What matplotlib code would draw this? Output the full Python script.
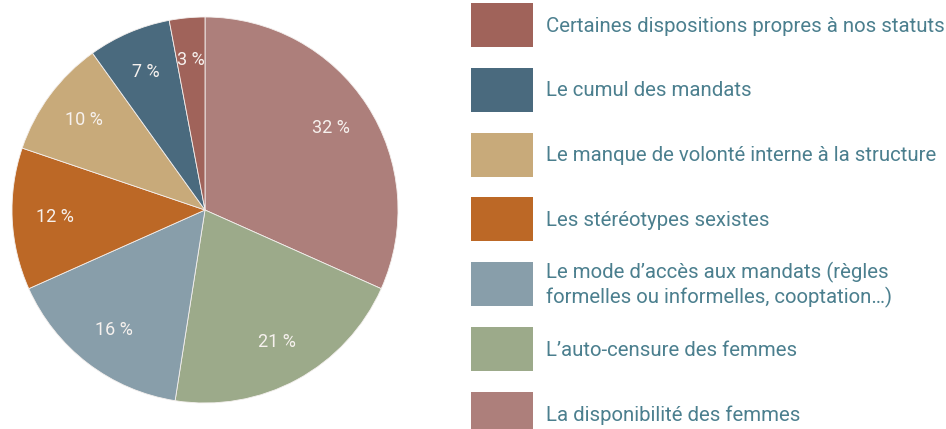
import numpy as np
import matplotlib.pyplot as plt
from matplotlib.patches import Rectangle

# slices clockwise from the top
labels = ["La disponibilité des femmes",
          "L’auto-censure des femmes",
          "Le mode d’accès aux mandats (règles\nformelles ou informelles, cooptation…)",
          "Les stéréotypes sexistes",
          "Le manque de volonté interne à la structure",
          "Le cumul des mandats",
          "Certaines dispositions propres à nos statuts"]
values = [32, 21, 16, 12, 10, 7, 3]
colors = ["#ad7f7b", "#9caa8a", "#889eaa", "#bc6826", "#c8aa7a", "#4a6a7e", "#a0635a"]

plt.rcParams['font.family'] = ['Roboto', 'DejaVu Sans']

fig = plt.figure(figsize=(9.46, 4.29), dpi=100)
W, H = 946, 429
cx, cy, r = 205, 210, 193
ax = fig.add_axes([(cx - r) / W, (H - cy - r) / H, 2 * r / W, 2 * r / H])

wedges, texts, autotexts = ax.pie(values, colors=colors, startangle=90, counterclock=False,
                                  autopct=lambda p: "%d %%" % round(p), pctdistance=0.78,
                                  wedgeprops=dict(linewidth=0.6, edgecolor="#f4f0ee"),
                                  textprops=dict(color="#f6f1ee", fontsize=13))
ax.set_aspect("equal")
ax.set_xlim(-1, 1)
ax.set_ylim(-1, 1)

# legend, top to bottom = slices in reverse
for i, (lab, col) in enumerate(zip(labels[::-1], colors[::-1])):
    top = 3 + i * 64.8
    fig.patches.append(Rectangle((471 / W, 1 - (top + 44) / H), 62 / W, 44 / H,
                                 transform=fig.transFigure, facecolor=col, edgecolor="none"))
    fig.text(546 / W, 1 - (top + 23) / H, lab, ha="left", va="center", fontsize=14.7,
             color="#4b7f8e", linespacing=1.25)

fig.savefig("out.png", dpi=100)
